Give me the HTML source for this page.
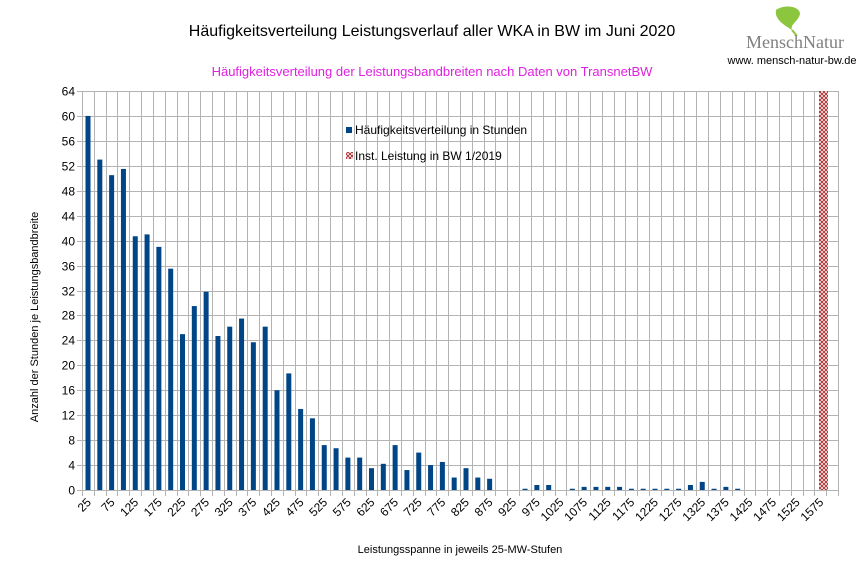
<!DOCTYPE html>
<html><head><meta charset="utf-8"><style>
body{margin:0;background:#fff;}
svg{display:block;font-family:"Liberation Sans",sans-serif;}
</style></head><body>
<svg id="s" width="866" height="578" viewBox="0 0 866 578" xmlns="http://www.w3.org/2000/svg">
<defs>
<pattern id="hx" width="4" height="4" patternUnits="userSpaceOnUse">
<rect width="4" height="4" fill="#fff"/>
<path d="M0,0L4,4M4,0L0,4" stroke="#b03030" stroke-width="1"/>
</pattern>
</defs>
<rect width="866" height="578" fill="#fff"/>
<text x="432" y="36" font-size="16" text-anchor="middle" fill="#000">Häufigkeitsverteilung Leistungsverlauf aller WKA in BW im Juni 2020</text>
<text x="432" y="76" font-size="13" text-anchor="middle" fill="#e020e0">Häufigkeitsverteilung der Leistungsbandbreiten nach Daten von TransnetBW</text>
<path d="M776,10 C784,4 800,6 800,14 C798,22 790,24 792,30 C786,26 774,20 776,10Z" fill="#8cc63f"/>
<path d="M792,30 L797,36" stroke="#8cc63f" stroke-width="2"/>
<text x="795" y="48" font-size="18" font-family="Liberation Serif,serif" text-anchor="middle" fill="#808080">MenschNatur</text>
<text x="792" y="64" font-size="11" text-anchor="middle" fill="#000">www. mensch-natur-bw.de</text>
<g id="grid" stroke="#b3b3b3" stroke-width="1"></g>
<g id="bars"></g>
<rect x="819" y="91" width="9" height="399" fill="url(#hx)"/>
<g id="lab" font-size="12" fill="#000"></g>
<rect x="346" y="127" width="6" height="6" fill="#004586"/>
<text x="355" y="134" font-size="12">Häufigkeitsverteilung in Stunden</text>
<rect x="346" y="152" width="7" height="7" fill="url(#hx)"/>
<text x="355" y="160" font-size="12">Inst. Leistung in BW 1/2019</text>
<text x="460" y="553" font-size="11" text-anchor="middle">Leistungsspanne in jeweils 25-MW-Stufen</text>
<text transform="translate(38,317) rotate(-90)" font-size="11" text-anchor="middle">Anzahl der Stunden je Leistungsbandbreite</text>
</svg>
<script>
var NS="http://www.w3.org/2000/svg";
function el(p,t,a,txt){var e=document.createElementNS(NS,t);for(var k in a)e.setAttribute(k,a[k]);if(txt!=null)e.textContent=txt;p.appendChild(e);return e;}
var L=82,R=838,T=91,B=490,n=64,cw=(R-L)/n,py=(B-T)/64;
var g=document.getElementById('grid'),b=document.getElementById('bars'),lab=document.getElementById('lab');
for(var i=0;i<=n;i++){var x=Math.round(L+cw*i)+.5;el(g,'line',{x1:x,y1:T,x2:x,y2:B+6});}
for(var v=0;v<=64;v+=4){var y=Math.round(B-v*py)+.5;el(g,'line',{x1:L-5,y1:y,x2:R,y2:y});
el(lab,'text',{x:75,y:y+4,'text-anchor':'end'},v);}
var vals=[60,53,50.5,51.5,40.7,41,39,35.5,25,29.5,31.8,24.7,26.2,27.5,23.7,26.2,16,18.7,13,11.5,7.2,6.7,5.2,5.2,3.5,4.2,7.2,3.2,6,4,4.5,2,3.5,2,1.8,0,0,0.2,0.8,0.8,0,0.2,0.5,0.5,0.5,0.5,0.2,0.2,0.2,0.2,0.2,0.8,1.3,0.2,0.5,0.2];
for(var i=0;i<vals.length;i++){if(!vals[i])continue;var h=vals[i]*py;el(b,'rect',{x:L+cw*i+3.5,y:B-h,width:5,height:h,fill:'#004586'});}
for(var i=0;i<n;i+=2){var x=L+cw*i+cw/2+4,y=503;
el(lab,'text',{x:x,y:y,'text-anchor':'end',transform:'rotate(-45 '+x+' '+y+')','font-size':'12'},25+25*i);}
</script>
</body></html>
